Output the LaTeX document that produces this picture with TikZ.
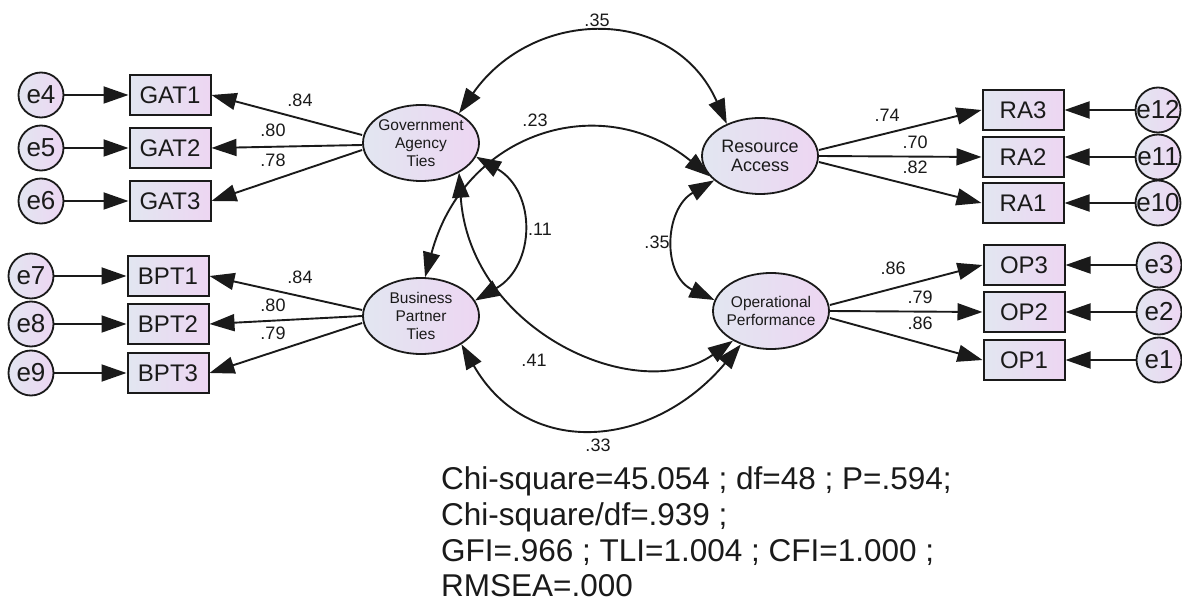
\documentclass[tikz,border=0pt]{standalone}
\usepackage{fontspec}
\setmainfont{Liberation Sans}
\usetikzlibrary{arrows.meta,shapes.geometric}
\definecolor{fillL}{HTML}{E2E6F1}
\definecolor{fillR}{HTML}{EDD6F2}
\definecolor{ink}{HTML}{1A1A1A}
\tikzset{
  obs/.style={draw=ink, line width=2pt, left color=fillL, right color=fillR,
    minimum width=81pt, minimum height=40pt, inner sep=0pt,
    font=\fontsize{24}{24}\selectfont, text=ink},
  err/.style={circle, draw=ink, line width=1.8pt, left color=fillL, right color=fillR,
    minimum size=45pt, inner sep=0pt,
    label={[font=\fontsize{26}{26}\selectfont, text=ink, inner sep=0pt]center:#1}},
  lat/.style={ellipse, draw=ink, line width=1.8pt, left color=fillL, right color=fillR,
    minimum width=116pt, minimum height=76pt, inner sep=0pt},
  lattext/.style={align=center, font=\fontsize{15.5}{18}\selectfont, text=ink, inner sep=0pt},
  coef/.style={font=\fontsize{18}{18}\selectfont, text=ink, inner sep=0pt},
  fit/.style={font=\fontsize{31.5}{36}\selectfont, text=ink, inner sep=0pt, anchor=base west},
  onearrow/.style={draw=ink, line width=1.9pt, -{Triangle[length=25pt,width=17pt]}},
  covarrow/.style={draw=ink, line width=1.9pt,
    {Triangle[length=25pt,width=17pt]}-{Triangle[length=25pt,width=17pt]}},
}
\begin{document}
\begin{tikzpicture}[x=1pt,y=1pt]
\fill[white] (0,0) rectangle (1182,-601);
\useasboundingbox (0,0) rectangle (1182,-601);

% latent variables
\node[lat, label={[lattext]center:Government\\Agency\\Ties}] (gat) at (421,-143) {};
\node[lat, label={[lattext]center:Business\\Partner\\Ties}] (bpt) at (421,-316) {};
\node[lat, label={[lattext, font=\fontsize{18}{19}\selectfont]center:Resource\\Access}] (ra) at (760,-156) {};
\node[lat, label={[lattext]center:Operational\\Performance}] (op) at (771,-311) {};

% observed variables
\node[obs] (gat1) at (170,-95) {GAT1};
\node[obs] (gat2) at (170,-148) {GAT2};
\node[obs] (gat3) at (170,-201) {GAT3};
\node[obs] (bpt1) at (168,-276) {BPT1};
\node[obs] (bpt2) at (168,-324) {BPT2};
\node[obs] (bpt3) at (168,-373) {BPT3};
\node[obs] (ra3) at (1023,-110) {RA3};
\node[obs] (ra2) at (1023,-157) {RA2};
\node[obs] (ra1) at (1023,-203) {RA1};
\node[obs] (op3) at (1024,-265) {OP3};
\node[obs] (op2) at (1024,-312) {OP2};
\node[obs] (op1) at (1024,-360) {OP1};

% errors
\node[err=e4] (e4) at (41,-95) {};
\node[err=e5] (e5) at (41,-148) {};
\node[err=e6] (e6) at (41,-201) {};
\node[err=e7] (e7) at (31,-276) {};
\node[err=e8] (e8) at (31,-324) {};
\node[err=e9] (e9) at (31,-373) {};
\node[err=e12] (e12) at (1158,-110) {};
\node[err=e11] (e11) at (1158,-157) {};
\node[err=e10] (e10) at (1158,-203) {};
\node[err=e3] (e3) at (1159,-265) {};
\node[err=e2] (e2) at (1159,-312) {};
\node[err=e1] (e1) at (1159,-360) {};

% error arrows
\draw[onearrow] (e4) -- (gat1);
\draw[onearrow] (e5) -- (gat2);
\draw[onearrow] (e6) -- (gat3);
\draw[onearrow] (e7) -- (bpt1);
\draw[onearrow] (e8) -- (bpt2);
\draw[onearrow] (e9) -- (bpt3);
\draw[onearrow] (e12) -- (ra3);
\draw[onearrow] (e11) -- (ra2);
\draw[onearrow] (e10) -- (ra1);
\draw[onearrow] (e3) -- (op3);
\draw[onearrow] (e2) -- (op2);
\draw[onearrow] (e1) -- (op1);

% loadings
\draw[onearrow] ([yshift=8pt]gat.west) -- (gat1.east);
\draw[onearrow] ([yshift=-2pt]gat.west) -- (gat2.east);
\draw[onearrow] ([yshift=-7pt]gat.west) -- (gat3.east);
\draw[onearrow] ([yshift=6pt]bpt.west) -- (bpt1.east);
\draw[onearrow] (bpt.west) -- (bpt2.east);
\draw[onearrow] ([yshift=-7pt]bpt.west) -- (bpt3.east);
\draw[onearrow] ([yshift=6pt]ra.east) -- (ra3.west);
\draw[onearrow] (ra.east) -- (ra2.west);
\draw[onearrow] ([yshift=-6pt]ra.east) -- (ra1.west);
\draw[onearrow] ([yshift=6pt]op.east) -- (op3.west);
\draw[onearrow] (op.east) -- (op2.west);
\draw[onearrow] ([yshift=-7pt]op.east) -- (op1.west);

% covariances
\draw[covarrow] (gat.38) .. controls +(55:130) and +(114:130) .. (ra.136);
\draw[covarrow] (bpt.84) .. controls +(75:150) and +(141:140) .. (ra.202);
\draw[covarrow] (gat.346) .. controls +(-30:70) and +(30:70) .. (bpt.16);
\draw[covarrow] (gat.322) .. controls +(-86:160) and +(215:115) .. (op.218);
\draw[covarrow] (bpt.325) .. controls +(-60:135) and +(230:135) .. (op.228);
\draw[covarrow] (ra.208) .. controls +(210:58) and +(155:58) .. (op.169);

% coefficients
\node[coef] (c1) at (300,-100) {.84};
\node[coef] (c2) at (273,-130) {.80};
\node[coef] (c3) at (273,-160) {.78};
\node[coef] (c4) at (300,-277) {.84};
\node[coef] (c5) at (273,-305) {.80};
\node[coef] (c6) at (273,-333) {.79};
\node[coef] (c7) at (887,-115) {.74};
\node[coef] (c8) at (915,-142) {.70};
\node[coef] (c9) at (915,-167) {.82};
\node[coef] (c10) at (893,-268) {.86};
\node[coef] (c11) at (920,-297) {.79};
\node[coef] (c12) at (920,-323) {.86};
\node[coef] (k1) at (597,-20) {.35};
\node[coef] (k2) at (535,-120) {.23};
\node[coef] (k3) at (540,-229) {.11};
\node[coef] (k4) at (657,-242) {.35};
\node[coef] (k5) at (534,-360) {.41};
\node[coef] (k6) at (598,-445) {.33};

% fit statistics
\node[fit] (f1) at (441,-489) {Chi-square=45.054 ; df=48 ; P=.594;};
\node[fit] (f2) at (441,-525) {Chi-square/df=.939 ;};
\node[fit] (f3) at (441,-561) {GFI=.966 ; TLI=1.004 ; CFI=1.000 ;};
\node[fit] (f4) at (441,-596) {RMSEA=.000};
\end{tikzpicture}
\end{document}
